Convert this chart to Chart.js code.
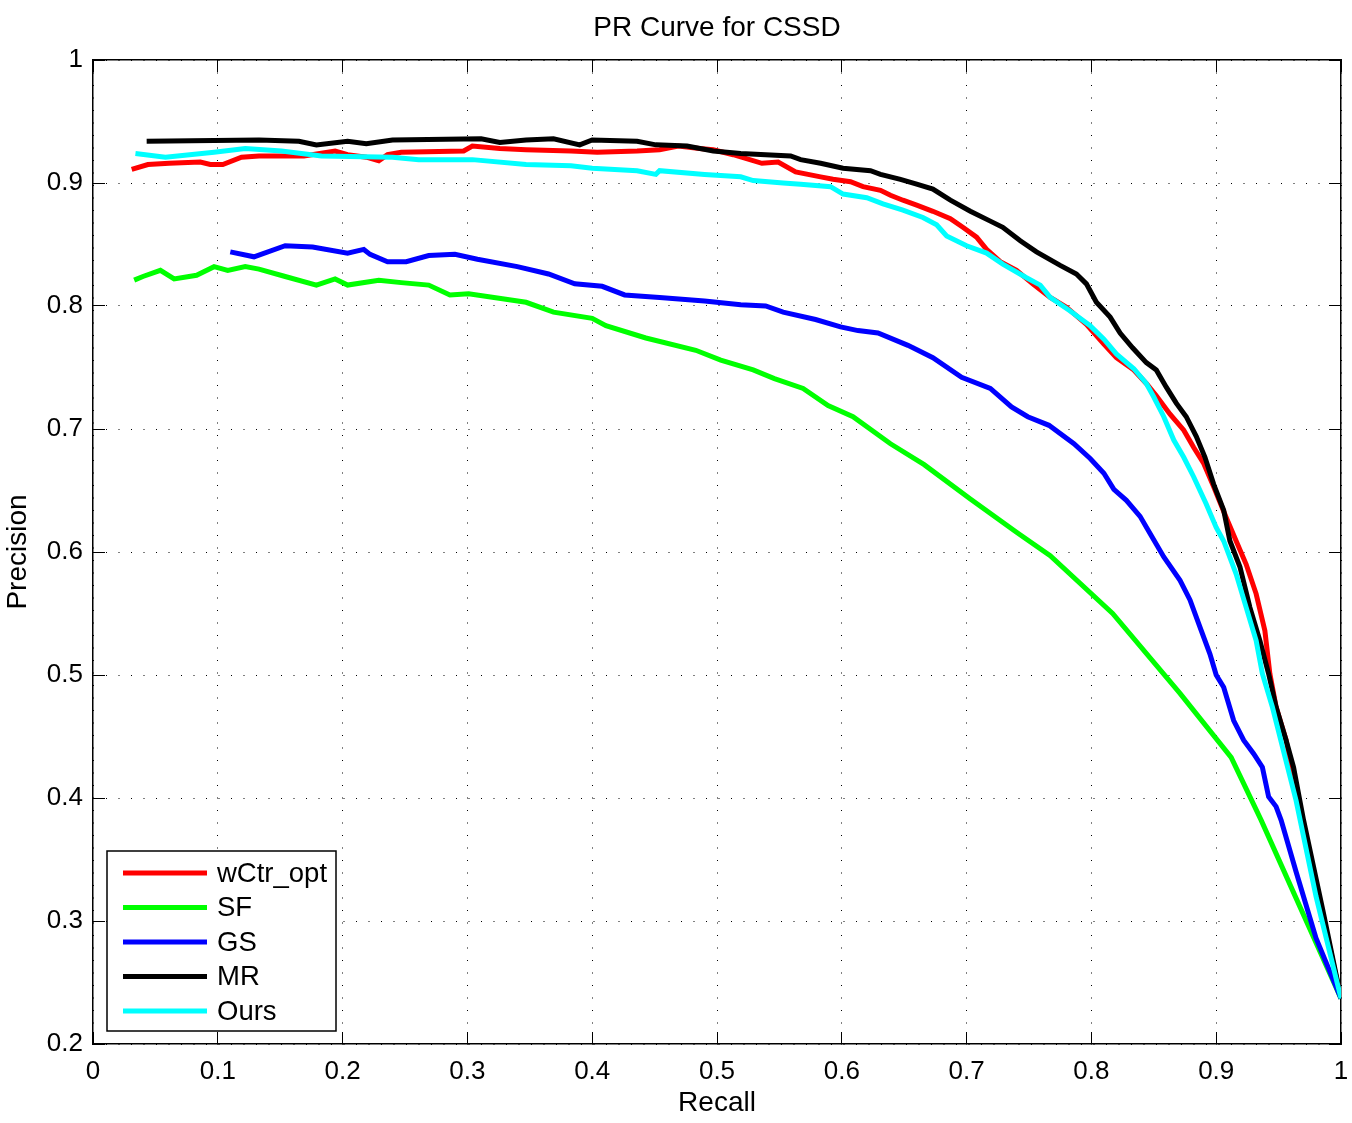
<!DOCTYPE html>
<html>
<head>
<meta charset="utf-8">
<script src="https://cdn.jsdelivr.net/npm/chart.js@4.4.0/dist/chart.umd.min.js"></script>
<style>
  html, body { margin: 0; padding: 0; background: #fff; }
  #wrap { width: 1352px; height: 1123px; }
</style>
</head>
<body>
<div id="wrap"><canvas id="prChart" width="1352" height="1123"></canvas></div>
<script>
// recall / precision
const wctrRecall = [0.031, 0.044, 0.061, 0.086, 0.094, 0.104, 0.119, 0.133, 0.169, 0.194, 0.204, 0.219, 0.229, 0.236, 0.247, 0.297, 0.304, 0.326, 0.347, 0.383, 0.404, 0.436, 0.454, 0.469, 0.486, 0.497, 0.513, 0.536, 0.549, 0.563, 0.583, 0.593, 0.607, 0.617, 0.631, 0.639, 0.649, 0.660, 0.673, 0.687, 0.697, 0.708, 0.716, 0.727, 0.740, 0.753, 0.767, 0.780, 0.796, 0.810, 0.820, 0.834, 0.844, 0.852, 0.863, 0.874, 0.882, 0.890, 0.898, 0.908, 0.916, 0.924, 0.932, 0.939, 0.943, 0.948, 0.956, 0.964, 1.000];
const wctrPrecision = [0.911, 0.915, 0.916, 0.917, 0.915, 0.915, 0.921, 0.922, 0.922, 0.926, 0.923, 0.921, 0.918, 0.923, 0.925, 0.926, 0.930, 0.928, 0.927, 0.926, 0.925, 0.926, 0.927, 0.930, 0.928, 0.927, 0.923, 0.916, 0.917, 0.909, 0.905, 0.903, 0.901, 0.897, 0.894, 0.890, 0.886, 0.882, 0.877, 0.871, 0.864, 0.856, 0.846, 0.836, 0.829, 0.818, 0.807, 0.799, 0.785, 0.769, 0.758, 0.748, 0.737, 0.727, 0.712, 0.699, 0.685, 0.672, 0.653, 0.628, 0.609, 0.590, 0.566, 0.536, 0.501, 0.474, 0.447, 0.404, 0.237];

const sfRecall = [0.033, 0.040, 0.054, 0.065, 0.083, 0.097, 0.108, 0.122, 0.133, 0.154, 0.179, 0.194, 0.204, 0.229, 0.247, 0.269, 0.286, 0.301, 0.347, 0.369, 0.400, 0.411, 0.443, 0.483, 0.503, 0.529, 0.546, 0.569, 0.589, 0.609, 0.639, 0.666, 0.703, 0.740, 0.767, 0.817, 0.871, 0.912, 0.936, 1.000];
const sfPrecision = [0.821, 0.824, 0.829, 0.822, 0.825, 0.832, 0.829, 0.832, 0.830, 0.824, 0.817, 0.822, 0.817, 0.821, 0.819, 0.817, 0.809, 0.810, 0.803, 0.795, 0.790, 0.784, 0.774, 0.764, 0.756, 0.748, 0.741, 0.733, 0.719, 0.710, 0.688, 0.671, 0.643, 0.616, 0.597, 0.550, 0.485, 0.433, 0.382, 0.237];

const gsRecall = [0.110, 0.129, 0.154, 0.176, 0.204, 0.217, 0.222, 0.236, 0.251, 0.269, 0.290, 0.308, 0.340, 0.365, 0.386, 0.408, 0.426, 0.454, 0.490, 0.519, 0.539, 0.553, 0.579, 0.599, 0.613, 0.629, 0.653, 0.673, 0.696, 0.719, 0.736, 0.749, 0.766, 0.786, 0.799, 0.810, 0.818, 0.828, 0.839, 0.847, 0.858, 0.871, 0.879, 0.887, 0.895, 0.900, 0.906, 0.914, 0.922, 0.930, 0.937, 0.942, 0.948, 0.952, 0.964, 0.980, 1.000];
const gsPrecision = [0.844, 0.840, 0.849, 0.848, 0.843, 0.846, 0.842, 0.836, 0.836, 0.841, 0.842, 0.838, 0.832, 0.826, 0.818, 0.816, 0.809, 0.807, 0.804, 0.801, 0.800, 0.795, 0.789, 0.783, 0.780, 0.778, 0.768, 0.758, 0.742, 0.733, 0.718, 0.710, 0.703, 0.688, 0.676, 0.664, 0.651, 0.642, 0.629, 0.615, 0.596, 0.577, 0.561, 0.539, 0.517, 0.500, 0.490, 0.463, 0.447, 0.436, 0.425, 0.401, 0.393, 0.382, 0.340, 0.286, 0.237];

const mrRecall = [0.043, 0.133, 0.165, 0.179, 0.204, 0.219, 0.240, 0.311, 0.326, 0.347, 0.369, 0.390, 0.400, 0.436, 0.451, 0.476, 0.497, 0.519, 0.559, 0.567, 0.583, 0.601, 0.623, 0.631, 0.647, 0.660, 0.673, 0.687, 0.703, 0.719, 0.729, 0.743, 0.756, 0.775, 0.788, 0.796, 0.804, 0.815, 0.823, 0.833, 0.844, 0.852, 0.860, 0.868, 0.876, 0.884, 0.891, 0.898, 0.906, 0.911, 0.919, 0.927, 0.935, 0.942, 0.948, 0.956, 0.962, 0.967, 0.970, 0.986, 1.000];
const mrPrecision = [0.934, 0.935, 0.934, 0.931, 0.934, 0.932, 0.935, 0.936, 0.933, 0.935, 0.936, 0.931, 0.935, 0.934, 0.931, 0.930, 0.926, 0.924, 0.922, 0.919, 0.916, 0.912, 0.910, 0.907, 0.903, 0.899, 0.895, 0.886, 0.877, 0.869, 0.864, 0.853, 0.844, 0.833, 0.826, 0.818, 0.803, 0.791, 0.778, 0.766, 0.754, 0.748, 0.734, 0.721, 0.710, 0.694, 0.677, 0.655, 0.634, 0.609, 0.588, 0.555, 0.528, 0.501, 0.474, 0.447, 0.425, 0.398, 0.382, 0.306, 0.237];

const oursRecall = [0.034, 0.058, 0.097, 0.122, 0.151, 0.183, 0.240, 0.261, 0.304, 0.347, 0.383, 0.400, 0.436, 0.451, 0.454, 0.490, 0.519, 0.529, 0.553, 0.567, 0.591, 0.601, 0.620, 0.633, 0.649, 0.665, 0.676, 0.684, 0.700, 0.716, 0.729, 0.748, 0.759, 0.767, 0.783, 0.799, 0.810, 0.820, 0.834, 0.844, 0.850, 0.858, 0.866, 0.874, 0.882, 0.892, 0.900, 0.906, 0.916, 0.924, 0.932, 0.937, 0.945, 0.953, 0.964, 0.980, 1.000];
const oursPrecision = [0.924, 0.921, 0.925, 0.928, 0.926, 0.922, 0.921, 0.919, 0.919, 0.915, 0.914, 0.912, 0.910, 0.907, 0.910, 0.907, 0.905, 0.902, 0.900, 0.899, 0.897, 0.891, 0.888, 0.883, 0.878, 0.872, 0.866, 0.857, 0.849, 0.843, 0.834, 0.823, 0.817, 0.807, 0.796, 0.784, 0.773, 0.761, 0.749, 0.737, 0.726, 0.710, 0.691, 0.677, 0.661, 0.639, 0.620, 0.609, 0.582, 0.555, 0.528, 0.501, 0.474, 0.442, 0.398, 0.320, 0.237];

const seriesNames = ['wCtr_opt', 'SF', 'GS', 'MR', 'Ours'];
const seriesColors = ['#ff0000', '#00ff00', '#0000ff', '#000000', '#00ffff'];
const seriesRecall = [wctrRecall, sfRecall, gsRecall, mrRecall, oursRecall];
const seriesPrecision = [wctrPrecision, sfPrecision, gsPrecision, mrPrecision, oursPrecision];

const xTicks = [0, 0.1, 0.2, 0.3, 0.4, 0.5, 0.6, 0.7, 0.8, 0.9, 1];
const yTicks = [0.2, 0.3, 0.4, 0.5, 0.6, 0.7, 0.8, 0.9, 1];

const FONT = "'Liberation Sans', Arial, Helvetica, sans-serif";
Chart.defaults.font.family = FONT;
Chart.defaults.font.size = 26;
Chart.defaults.color = '#000';

function toPoints(xs, ys) {
  return xs.map((x, i) => ({ x: x, y: ys[i] }));
}

const datasets = seriesNames.map((name, i) => ({
  label: name,
  data: toPoints(seriesRecall[i], seriesPrecision[i]),
  borderColor: seriesColors[i],
  backgroundColor: seriesColors[i],
  borderWidth: 5,
  pointRadius: 0,
  tension: 0,
  fill: false,
  // later series are painted on top, like the matlab plot order
  order: seriesNames.length - i
}));

// matlab style box legend in the lower left corner
const boxLegend = {
  id: 'boxLegend',
  afterDatasetsDraw(chart) {
    const ctx = chart.ctx;
    const left = 107, top = 851, w = 229, h = 180;
    ctx.save();
    ctx.fillStyle = '#fff';
    ctx.fillRect(left, top, w, h);
    ctx.strokeStyle = '#000';
    ctx.lineWidth = 1.5;
    ctx.strokeRect(left, top, w, h);
    ctx.font = '27.5px ' + FONT;
    ctx.textBaseline = 'middle';
    ctx.textAlign = 'left';
    chart.data.datasets.forEach((ds, i) => {
      const y = 873 + i * 34.5;
      ctx.strokeStyle = ds.borderColor;
      ctx.lineWidth = 5;
      ctx.beginPath();
      ctx.moveTo(123, y);
      ctx.lineTo(207, y);
      ctx.stroke();
      ctx.fillStyle = '#000';
      ctx.fillText(ds.label, 217, y + 1);
    });
    ctx.restore();
  }
};

const tickFmt = (v) => String(+v.toFixed(1));
// keep the edge labels from pushing the plot area inwards
const noEdgePad = (s) => { s.paddingLeft = 0; s.paddingRight = 0; s.paddingTop = 0; s.paddingBottom = 0; };

const ctx = document.getElementById('prChart').getContext('2d');
const myChart = new Chart(ctx, {
  type: 'line',
  data: { datasets },
  options: {
    responsive: false,
    animation: false,
    layout: { padding: { left: 0, right: 11, top: 0, bottom: 0 } },
    plugins: {
      legend: { display: false },
      tooltip: { enabled: false },
      title: {
        display: true,
        text: 'PR Curve for CSSD',
        fullSize: false,
        color: '#000',
        font: { size: 28, weight: 'normal' },
        padding: { top: 11, bottom: 15.4 }
      }
    },
    scales: {
      x: {
        type: 'linear',
        position: 'bottom',
        min: 0,
        max: 1,
        afterBuildTicks: (s) => { s.ticks = xTicks.map(v => ({ value: v })); },
        afterFit: (s) => { s.height = 79; noEdgePad(s); },
        ticks: { padding: 24, maxRotation: 0, autoSkip: false, callback: tickFmt },
        grid: { color: '#000', lineWidth: 1, tickLength: -12, tickColor: '#000', tickBorderDash: [] },
        border: { display: true, color: '#000', width: 1.5, dash: [1, 11.5] },
        title: { display: true, text: 'Recall', font: { size: 28 }, padding: { top: 0, bottom: 3 } }
      },
      y: {
        type: 'linear',
        position: 'left',
        min: 0.2,
        max: 1,
        afterBuildTicks: (s) => { s.ticks = yTicks.map(v => ({ value: v })); },
        afterFit: (s) => { s.width = 93; noEdgePad(s); },
        ticks: { padding: 22, autoSkip: false, callback: tickFmt },
        grid: { color: '#000', lineWidth: 1, tickLength: -12, tickColor: '#000', tickBorderDash: [] },
        border: { display: true, color: '#000', width: 1.5, dash: [1, 11.5] },
        title: { display: true, text: 'Precision', font: { size: 28 }, padding: { top: 1.5, bottom: 0 } }
      },
      xTop: {
        type: 'linear',
        position: 'top',
        min: 0,
        max: 1,
        afterBuildTicks: (s) => { s.ticks = xTicks.map(v => ({ value: v })); },
        afterFit: (s) => { s.height = 0; noEdgePad(s); },
        ticks: { display: false },
        grid: { drawOnChartArea: false, color: '#000', tickLength: -12, tickBorderDash: [] },
        border: { display: true, color: '#000', width: 1.5 }
      },
      yRight: {
        type: 'linear',
        position: 'right',
        min: 0.2,
        max: 1,
        afterBuildTicks: (s) => { s.ticks = yTicks.map(v => ({ value: v })); },
        afterFit: (s) => { s.width = 0; noEdgePad(s); },
        ticks: { display: false },
        grid: { drawOnChartArea: false, color: '#000', tickLength: -12, tickBorderDash: [] },
        border: { display: true, color: '#000', width: 1.5 }
      }
    }
  },
  plugins: [boxLegend]
});
</script>
</body>
</html>
